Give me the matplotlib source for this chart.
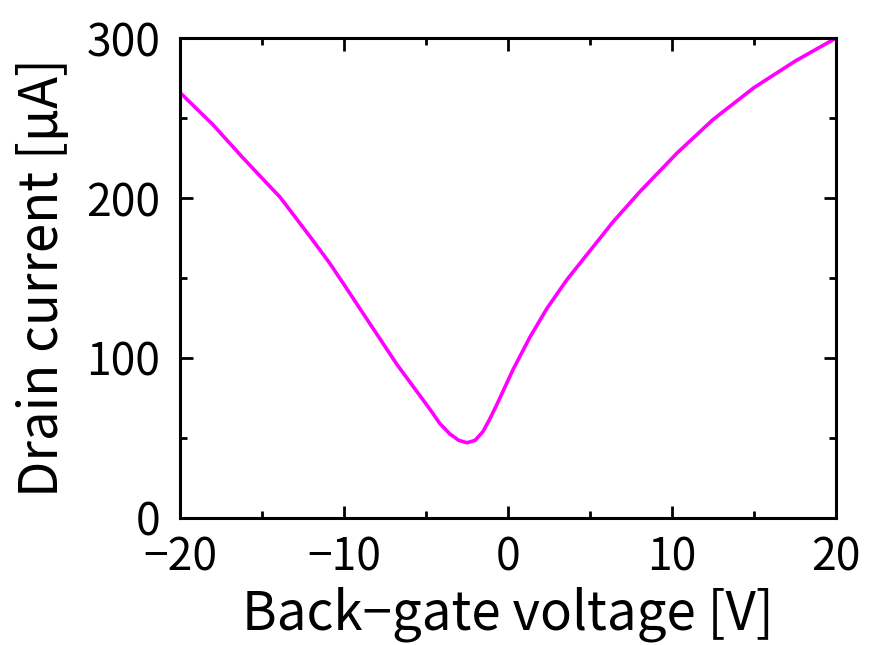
#!/usr/bin/env python3
"""Drain current vs back-gate voltage transfer curve."""
import matplotlib
matplotlib.use("Agg")
import matplotlib.pyplot as plt
from matplotlib.ticker import MultipleLocator

plt.rcParams["font.family"] = ["Noto Sans CJK JP", "DejaVu Sans"]

# values
VG = [-20.0, -18.0, -16.2, -15.0, -13.9, -12.0, -10.85, -10.0, -8.84, -6.77, -4.76,
      -4.15, -3.54, -3.0, -2.5, -2.0, -1.52, -1.1, -0.67, 0.3, 1.34, 2.38, 3.6, 5.0,
      6.4, 8.05, 10.3, 12.5, 15.0, 17.5, 20.0]
ID = [266.0, 246.0, 225.6, 212.5, 200.6, 175.0, 159.0, 146.0, 128.0, 96.0, 68.0,
      59.0, 52.5, 48.5, 47.0, 48.5, 54.0, 62.0, 71.0, 92.5, 113.0, 131.0, 149.0, 167.0,
      185.0, 204.0, 228.0, 249.0, 269.0, 285.5, 300.0]

fig = plt.figure(figsize=(8.69, 6.45), dpi=100)
ax = fig.add_axes([0.207, 0.197, 0.755, 0.744])
ax.plot(VG, ID, color="#ff00ff", lw=2.6, solid_joinstyle="round")

ax.set_xlim(-20, 20)
ax.set_ylim(0, 300)
ax.xaxis.set_major_locator(MultipleLocator(10))
ax.xaxis.set_minor_locator(MultipleLocator(5))
ax.yaxis.set_major_locator(MultipleLocator(100))
ax.yaxis.set_minor_locator(MultipleLocator(50))
ax.tick_params(which="both", direction="in", top=True, right=True, width=2, labelsize=32)
ax.tick_params(axis="x", pad=12)
ax.tick_params(axis="y", pad=14)
ax.tick_params(which="major", length=9)
ax.tick_params(which="minor", length=5)
for spine in ax.spines.values():
    spine.set_linewidth(2.2)

ax.set_xlabel("Back\u2212gate voltage [V]", fontsize=38, labelpad=4)
ax.set_ylabel("Drain current [\u03bcA]", fontsize=38, labelpad=12)

fig.savefig("out.png", dpi=100, facecolor="white")
